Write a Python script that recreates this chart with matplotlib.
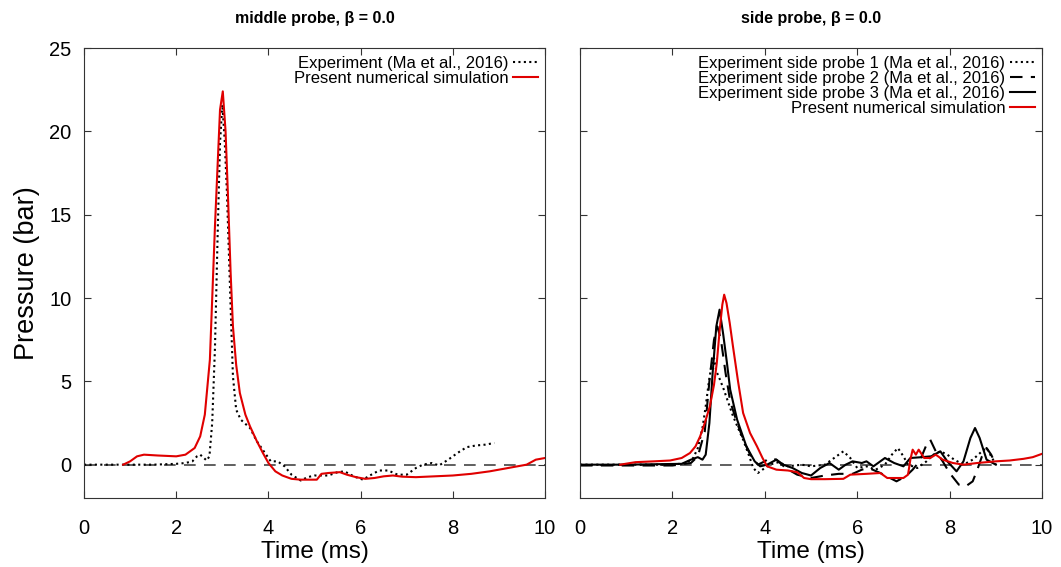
import matplotlib
matplotlib.use("Agg")
import matplotlib.pyplot as plt

plt.rcParams['font.family'] = ['Liberation Sans', 'DejaVu Sans']

# middle probe
mid_sim_t = [0.85, 1.0, 1.15, 1.3, 1.6, 2.0, 2.2, 2.4, 2.52, 2.62, 2.73, 2.84, 2.95, 3.01,
             3.07, 3.12, 3.18, 3.23, 3.3, 3.38, 3.5, 3.6, 3.75, 3.88, 4.0, 4.15, 4.3, 4.5,
             4.7, 5.05, 5.15, 5.3, 5.55, 5.7, 5.9, 6.1, 6.3, 6.5, 6.7, 6.9, 7.2, 7.6, 8.0,
             8.4, 8.8, 9.2, 9.6, 9.8, 10.0]
mid_sim_p = [0.0, 0.2, 0.5, 0.6, 0.55, 0.5, 0.6, 1.0, 1.7, 3.0, 6.3, 14.3, 21.3, 22.4,
             20.0, 16.3, 11.5, 8.3, 6.0, 4.3, 3.0, 2.3, 1.4, 0.7, 0.1, -0.4, -0.65, -0.85,
             -0.9, -0.9, -0.55, -0.5, -0.45, -0.6, -0.75, -0.85, -0.8, -0.7, -0.65, -0.72,
             -0.75, -0.7, -0.65, -0.55, -0.4, -0.2, 0.0, 0.3, 0.4]

mid_exp_t = [0.0, 1.0, 1.5, 2.0, 2.2, 2.35, 2.45, 2.52, 2.6, 2.66, 2.72, 2.78, 2.84, 2.9,
             2.95, 3.0, 3.05, 3.1, 3.17, 3.23, 3.3, 3.4, 3.6, 3.75, 3.9, 4.05, 4.2, 4.35,
             4.5, 4.7, 4.85, 5.0, 5.3, 5.5, 5.65, 5.85, 6.05, 6.2, 6.4, 6.6, 6.8, 7.0, 7.2,
             7.35, 7.55, 7.7, 7.9, 8.1, 8.3, 8.5, 8.7, 8.9]
mid_exp_p = [0.0, 0.0, 0.0, 0.05, 0.1, 0.2, 0.5, 0.6, 0.4, 0.25, 0.5, 2.5, 7.0, 14.0,
             19.3, 21.6, 19.5, 16.3, 10.3, 5.3, 3.3, 2.7, 2.2, 1.4, 0.8, 0.2, 0.2, -0.1,
             -0.6, -0.95, -0.75, -0.65, -0.65, -0.45, -0.4, -0.7, -0.9, -0.65, -0.35, -0.35,
             -0.6, -0.6, -0.2, 0.0, 0.1, -0.05, 0.3, 0.7, 1.05, 1.15, 1.2, 1.3]

# side probes
side1_t = [0.0, 1.0, 2.0, 2.3, 2.45, 2.55, 2.65, 2.72, 2.78, 2.84, 2.9, 2.95, 3.0, 3.1,
           3.2, 3.3, 3.42, 3.53, 3.65, 3.75, 3.85, 3.95, 4.1, 4.3, 4.5, 4.8, 5.0, 5.3,
           5.5, 5.7, 5.85, 6.0, 6.2, 6.4, 6.6, 6.75, 6.88, 7.0, 7.1, 7.3, 7.5, 7.65, 7.8,
           7.95, 8.1, 8.3, 8.5, 8.7, 8.8, 8.9, 9.0]
side1_p = [0.0, 0.0, 0.0, 0.1, 0.4, 1.0, 2.2, 3.5, 4.8, 5.9, 6.4, 5.6, 5.3, 4.6,
           3.8, 3.0, 2.2, 1.5, 0.6, -0.2, -0.5, -0.3, 0.0, 0.15, -0.1, 0.0, -0.1, 0.0,
           0.4, 0.8, 0.4, -0.2, -0.1, -0.3, 0.0, 0.6, 1.0, 0.5, 0.0, -0.2, 0.2, 0.6, 0.8,
           0.6, 0.3, 0.0, 0.3, 0.8, 1.0, 0.5, 0.0]

side2_t = [0.0, 1.0, 2.0, 2.4, 2.55, 2.7, 2.8, 2.9, 2.97, 3.05, 3.15, 3.25, 3.4, 3.55,
           3.7, 3.85, 4.0, 4.1, 4.25, 4.45, 4.7, 5.0, 5.3, 5.6, 5.9, 6.1, 6.25, 6.5, 6.85,
           7.05, 7.2, 7.35, 7.5, 7.58, 7.7, 7.85, 8.0, 8.2, 8.35, 8.5, 8.6, 8.7, 8.8, 8.9,
           9.0]
side2_p = [-0.05, -0.05, -0.05, 0.1, 0.5, 2.0, 5.0, 7.5, 8.3, 7.5, 5.5, 3.8, 2.5, 1.4,
           0.5, 0.0, 0.2, 0.4, 0.3, -0.2, -0.6, -0.8, -0.65, -0.55, -0.55, -0.3, -0.2,
           -0.5, -1.0, -0.7, -0.3, 0.2, 1.2, 1.5, 0.8, 0.2, -0.5, -1.2, -1.3, -1.0, -0.3,
           0.5, 1.0, 0.6, 0.0]

side3_t = [0.0, 1.0, 2.2, 2.4, 2.55, 2.65, 2.72, 2.8, 2.87, 2.95, 3.02, 3.1, 3.18, 3.25,
           3.4, 3.6, 3.78, 3.9, 4.05, 4.25, 4.4, 4.6, 4.8, 5.0, 5.2, 5.4, 5.6, 5.75, 5.9,
           6.1, 6.2, 6.35, 6.6, 6.8, 7.0, 7.15, 7.4, 7.6, 7.8, 7.95, 8.15, 8.3, 8.45, 8.55,
           8.65, 8.8, 9.0]
side3_p = [0.0, 0.0, 0.05, 0.3, 0.45, 0.3, 0.6, 2.5, 5.5, 8.3, 9.3, 7.8, 6.1, 4.5,
           2.7, 1.1, 0.2, -0.1, 0.0, 0.3, 0.0, -0.2, -0.5, -0.65, -0.2, 0.1, -0.3, 0.0,
           0.2, 0.1, 0.2, -0.1, 0.4, 0.1, -0.1, 0.4, 0.45, 0.5, 0.8, 0.2, -0.4, 0.2, 1.6,
           2.2, 1.6, 0.3, 0.0]

side_sim_t = [0.87, 1.2, 1.6, 1.95, 2.2, 2.38, 2.5, 2.6, 2.7, 2.81, 2.9, 2.96, 3.02, 3.08,
              3.12, 3.17, 3.24, 3.31, 3.42, 3.53, 3.68, 3.83, 3.95, 4.05, 4.25, 4.5, 4.7,
              4.85, 5.0, 5.3, 5.7, 5.85, 6.2, 6.5, 6.65, 7.0, 7.1, 7.15, 7.2, 7.27, 7.33,
              7.45, 7.58, 7.7, 7.85, 8.07, 8.3, 8.6, 8.8, 9.0, 9.3, 9.6, 9.8, 10.0]
side_sim_p = [0.0, 0.15, 0.2, 0.25, 0.4, 0.7, 1.1, 1.7, 2.5, 3.5, 4.8, 6.1, 8.0, 9.6,
              10.2, 9.7, 8.5, 7.1, 5.0, 3.1, 1.9, 1.1, 0.4, -0.1, -0.3, -0.35, -0.45,
              -0.8, -0.87, -0.87, -0.85, -0.6, -0.55, -0.5, -0.8, -0.8, -0.6, 0.3, 0.9, 0.6,
              0.9, 0.4, 0.4, 0.6, 0.3, 0.1, 0.0, 0.1, 0.15, 0.2, 0.25, 0.35, 0.45, 0.65]

red = '#e00000'
dotted = (0, (1, 1.6))
dashed = (0, (6, 4))

fig = plt.figure(figsize=(10.61, 5.67), dpi=100)
ax1 = fig.add_axes([0.0792, 0.1217, 0.4345, 0.7936])
ax2 = fig.add_axes([0.5467, 0.1217, 0.4354, 0.7936])

for ax in (ax1, ax2):
    ax.axhline(0, color='#444444', lw=1.2, ls=(0, (7, 5)), zorder=1)

ax1.plot(mid_exp_t, mid_exp_p, color='black', lw=1.5, ls=dotted,
         label='Experiment (Ma et al., 2016)')
ax1.plot(mid_sim_t, mid_sim_p, color=red, lw=1.5,
         label='Present numerical simulation')

ax2.plot(side1_t, side1_p, color='black', lw=1.5, ls=dotted,
         label='Experiment side probe 1 (Ma et al., 2016)')
ax2.plot(side2_t, side2_p, color='black', lw=1.5, ls=dashed,
         label='Experiment side probe 2 (Ma et al., 2016)')
ax2.plot(side3_t, side3_p, color='black', lw=1.5,
         label='Experiment side probe 3 (Ma et al., 2016)')
ax2.plot(side_sim_t, side_sim_p, color=red, lw=1.5,
         label='Present numerical simulation')

for ax, title in ((ax1, 'middle probe, β = 0.0'), (ax2, 'side probe, β = 0.0')):
    ax.set_xlim(0, 10)
    ax.set_ylim(-2, 25)
    ax.set_xticks([0, 2, 4, 6, 8, 10])
    ax.set_yticks([0, 5, 10, 15, 20, 25])
    ax.tick_params(direction='in', top=True, right=True, length=5, labelsize=14.5,
                   color='#333333')
    ax.tick_params(axis='x', pad=15)
    ax.tick_params(axis='y', pad=9)
    for s in ax.spines.values():
        s.set_color('#333333')
    ax.set_xlabel('Time (ms)', fontsize=17.5, labelpad=2)
    ax.set_title(title, fontsize=11.5, fontweight='bold', pad=18)
    ax.legend(loc='upper right', frameon=False, markerfirst=False, fontsize=12,
              handlelength=1.45, handletextpad=0.3, labelspacing=0.0,
              borderaxespad=0.0, borderpad=0.45)

ax1.set_ylabel('Pressure (bar)', fontsize=19.5, labelpad=7)
ax2.tick_params(labelleft=False)

fig.savefig('out.png', dpi=100)
